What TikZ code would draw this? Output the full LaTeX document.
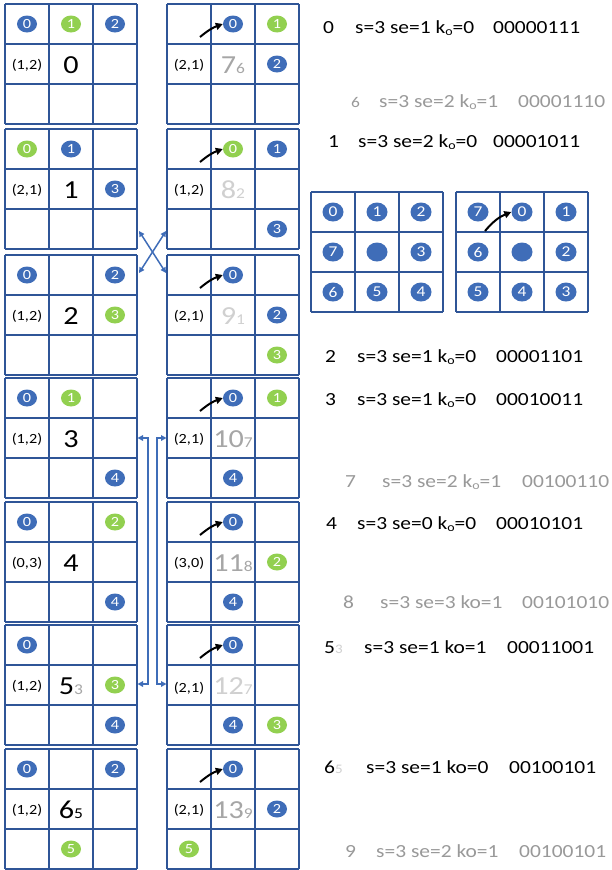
\documentclass[tikz,border=0pt]{standalone}
\usepackage{fontspec}
\setmainfont{Carlito}[FakeStretch=1.16]
\usetikzlibrary{shapes.geometric,arrows.meta}

\definecolor{gridblue}{HTML}{2F5597}
\definecolor{dotblue}{HTML}{3F6DB8}
\definecolor{dotgreen}{HTML}{92D050}
\definecolor{txtgray}{HTML}{999999}
\definecolor{midgray}{HTML}{A6A6A6}
\definecolor{palegray}{HTML}{D0D0D0}

\newcommand\fs[1]{\fontsize{#1}{#1}\selectfont}
\newcommand\ko{k\raisebox{-2.5pt}{\fs{12}o}}

\tikzset{
  gridline/.style={draw=gridblue, line width=1.2pt},
  bdot/.style={ellipse, fill=dotblue, text=white, inner sep=0pt,
    minimum width=20pt, minimum height=17pt, font=\fs{14}},
  gdot/.style={bdot, fill=dotgreen},
  mdot/.style={bdot, minimum width=21pt, minimum height=19pt, font=\fs{15}},
  pair/.style={anchor=base, inner sep=0pt, font=\fs{14}},
  bignum/.style={anchor=base, inner sep=0pt, font=\fs{26}},
  turn/.style={-{Triangle[length=7pt,width=7pt]}, line width=2pt, draw=black},
  link/.style={{Triangle[length=5.5pt,width=5.5pt]}-{Triangle[length=5.5pt,width=5.5pt]},
    draw=dotblue, line width=1.5pt},
  row/.style={anchor=base west, inner sep=0pt, font=\fs{18.5}},
  graytxt/.style={row, text=txtgray},
}

% 3x3 board of 44x40 cells with its top-left corner at (#2,#3);
% cell centres are named #1-row-col
\newcommand\gridat[3]{%
  \foreach \k in {0,1,2,3}{
    \draw[gridline] (#2+44*\k,#3) -- (#2+44*\k,#3+120);
    \draw[gridline] (#2,#3+40*\k) -- (#2+132,#3+40*\k);}
  \foreach \i in {0,1,2}{\foreach \j in {0,1,2}{
    \coordinate (#1-\i-\j) at (#2+22+44*\j,#3+20+40*\i);}}}

% curved arrow pointing at the circle in the upper middle cell
\newcommand\turnarrow[2]{%
  \coordinate (#1t) at ([xshift=-33pt,yshift=-13pt]#1-0-1);
  \draw[turn] (#1t) to[bend left=10] (#2.west);}

\begin{document}
\begin{tikzpicture}[x=1pt,y=-1pt]
\useasboundingbox (0,0) rectangle (611,870);
\fill[white] (0,0) rectangle (611,870);

% ---------- boards ----------
\gridat{L0}{5}{4}     \gridat{R0}{167}{4}
\gridat{L1}{5}{129}   \gridat{R1}{167}{129}
\gridat{L2}{5}{255}   \gridat{R2}{167}{255}
\gridat{L3}{5}{378}   \gridat{R3}{167}{378}
\gridat{L4}{5}{502}   \gridat{R4}{167}{502}
\gridat{L5}{5}{625}   \gridat{R5}{167}{625}
\gridat{L6}{5}{749}   \gridat{R6}{167}{749}

% board 0
\node[bdot] (L0a) at (L0-0-0) {0};
\node[gdot] (L0b) at (L0-0-1) {1};
\node[bdot] (L0c) at (L0-0-2) {2};
\node[pair] (L0p) at ([yshift=-5pt]L0-1-0) {(1,2)};
\node[bignum] (L0n) at ([yshift=-9pt]L0-1-1) {0};
\node[bdot] (R0a) at (R0-0-1) {0};
\node[gdot] (R0b) at (R0-0-2) {1};
\node[bdot] (R0c) at (R0-1-2) {2};
\node[pair] (R0p) at ([yshift=-5pt]R0-1-0) {(2,1)};
\node[bignum, text=midgray] (R0n) at ([yshift=-9pt]R0-1-1) {7{\fs{15}6}};
\turnarrow{R0}{R0a}

% board 1
\node[gdot] (L1a) at (L1-0-0) {0};
\node[bdot] (L1b) at (L1-0-1) {1};
\node[bdot] (L1c) at (L1-1-2) {3};
\node[pair] (L1p) at ([yshift=-5pt]L1-1-0) {(2,1)};
\node[bignum] (L1n) at ([yshift=-9pt]L1-1-1) {1};
\node[gdot] (R1a) at (R1-0-1) {0};
\node[bdot] (R1b) at (R1-0-2) {1};
\node[bdot] (R1c) at (R1-2-2) {3};
\node[pair] (R1p) at ([yshift=-5pt]R1-1-0) {(1,2)};
\node[bignum, text=palegray] (R1n) at ([yshift=-9pt]R1-1-1) {8{\fs{15}2}};
\turnarrow{R1}{R1a}

% board 2
\node[bdot] (L2a) at (L2-0-0) {0};
\node[bdot] (L2b) at (L2-0-2) {2};
\node[gdot] (L2c) at (L2-1-2) {3};
\node[pair] (L2p) at ([yshift=-5pt]L2-1-0) {(1,2)};
\node[bignum] (L2n) at ([yshift=-9pt]L2-1-1) {2};
\node[bdot] (R2a) at (R2-0-1) {0};
\node[bdot] (R2b) at (R2-1-2) {2};
\node[gdot] (R2c) at (R2-2-2) {3};
\node[pair] (R2p) at ([yshift=-5pt]R2-1-0) {(2,1)};
\node[bignum, text=palegray] (R2n) at ([yshift=-9pt]R2-1-1) {9{\fs{15}1}};
\turnarrow{R2}{R2a}

% board 3
\node[bdot] (L3a) at (L3-0-0) {0};
\node[gdot] (L3b) at (L3-0-1) {1};
\node[bdot] (L3c) at (L3-2-2) {4};
\node[pair] (L3p) at ([yshift=-5pt]L3-1-0) {(1,2)};
\node[bignum] (L3n) at ([yshift=-9pt]L3-1-1) {3};
\node[bdot] (R3a) at (R3-0-1) {0};
\node[gdot] (R3b) at (R3-0-2) {1};
\node[bdot] (R3c) at (R3-2-1) {4};
\node[pair] (R3p) at ([yshift=-5pt]R3-1-0) {(2,1)};
\node[bignum, text=midgray] (R3n) at ([yshift=-9pt]R3-1-1) {10{\fs{15}7}};
\turnarrow{R3}{R3a}

% board 4
\node[bdot] (L4a) at (L4-0-0) {0};
\node[gdot] (L4b) at (L4-0-2) {2};
\node[bdot] (L4c) at (L4-2-2) {4};
\node[pair] (L4p) at ([yshift=-5pt]L4-1-0) {(0,3)};
\node[bignum] (L4n) at ([yshift=-9pt]L4-1-1) {4};
\node[bdot] (R4a) at (R4-0-1) {0};
\node[gdot] (R4b) at (R4-1-2) {2};
\node[bdot] (R4c) at (R4-2-1) {4};
\node[pair] (R4p) at ([yshift=-5pt]R4-1-0) {(3,0)};
\node[bignum, text=midgray] (R4n) at ([yshift=-9pt]R4-1-1) {11{\fs{15}8}};
\turnarrow{R4}{R4a}

% board 5
\node[bdot] (L5a) at (L5-0-0) {0};
\node[gdot] (L5b) at (L5-1-2) {3};
\node[bdot] (L5c) at (L5-2-2) {4};
\node[pair] (L5p) at ([yshift=-5pt]L5-1-0) {(1,2)};
\node[bignum] (L5n) at ([yshift=-9pt]L5-1-1) {5{\fs{15}\color{midgray}3}};
\node[bdot] (R5a) at (R5-0-1) {0};
\node[bdot] (R5b) at (R5-2-1) {4};
\node[gdot] (R5c) at (R5-2-2) {3};
\node[pair] (R5p) at ([yshift=-7pt]R5-1-0) {(2,1)};
\node[bignum, text=palegray] (R5n) at ([yshift=-9pt]R5-1-1) {12{\fs{15}7}};
\turnarrow{R5}{R5a}

% board 6
\node[bdot] (L6a) at (L6-0-0) {0};
\node[bdot] (L6b) at (L6-0-2) {2};
\node[gdot] (L6c) at (L6-2-1) {5};
\node[pair] (L6p) at ([yshift=-5pt]L6-1-0) {(1,2)};
\node[bignum] (L6n) at ([yshift=-9pt]L6-1-1) {6{\fs{15}5}};
\node[bdot] (R6a) at (R6-0-1) {0};
\node[bdot] (R6b) at (R6-1-2) {2};
\node[gdot] (R6c) at (R6-2-0) {5};
\node[pair] (R6p) at ([yshift=-5pt]R6-1-0) {(2,1)};
\node[bignum, text=midgray] (R6n) at ([yshift=-9pt]R6-1-1) {13{\fs{15}9}};
\turnarrow{R6}{R6a}

% ---------- crossing links between boards 1 and 2 ----------
\coordinate (xa) at (139,231);
\coordinate (xb) at (166,273);
\coordinate (xc) at (166,231);
\coordinate (xd) at (139,273);
\draw[link] (xa) -- (xb);
\draw[link] (xc) -- (xd);

% ---------- links between boards 3 and 5 ----------
\coordinate (va) at (137.5,438);
\coordinate (vb) at (148,438);
\coordinate (vc) at (148,684);
\coordinate (vd) at (137.5,684);
\draw[link] (va) -- (vb) -- (vc) -- (vd);
\coordinate (wa) at (166.5,438);
\coordinate (wb) at (157,438);
\coordinate (wc) at (157,684);
\coordinate (wd) at (166.5,684);
\draw[link] (wa) -- (wb) -- (wc) -- (wd);

% ---------- neighbour numbering ----------
\gridat{MA}{311}{192}
\gridat{MB}{456}{192}
\node[mdot] (MA0) at (MA-0-0) {0};
\node[mdot] (MA1) at (MA-0-1) {1};
\node[mdot] (MA2) at (MA-0-2) {2};
\node[mdot] (MA7) at (MA-1-0) {7};
\node[mdot] (MAc) at (MA-1-1) {};
\node[mdot] (MA3) at (MA-1-2) {3};
\node[mdot] (MA6) at (MA-2-0) {6};
\node[mdot] (MA5) at (MA-2-1) {5};
\node[mdot] (MA4) at (MA-2-2) {4};
\node[mdot] (MB7) at (MB-0-0) {7};
\node[mdot] (MB0) at (MB-0-1) {0};
\node[mdot] (MB1) at (MB-0-2) {1};
\node[mdot] (MB6) at (MB-1-0) {6};
\node[mdot] (MBc) at (MB-1-1) {};
\node[mdot] (MB2) at (MB-1-2) {2};
\node[mdot] (MB5) at (MB-2-0) {5};
\node[mdot] (MB4) at (MB-2-1) {4};
\node[mdot] (MB3) at (MB-2-2) {3};
\coordinate (MBt) at (485,231);
\draw[turn] (MBt) to[bend left=14] (MB0.west);

% ---------- code table ----------
\node[row] (t0a) at (323,33) {0};
\node[row] (t0b) at (355,33) {s=3 se=1 \ko=0};
\node[row] (t0c) at (493,33) {00000111};

\node[graytxt, font=\fs{15}] (t6a) at (351,107) {6};
\node[graytxt] (t6b) at (379,107) {s=3 se=2 \ko=1};
\node[graytxt] (t6c) at (518,107) {00001110};

\node[row] (t1a) at (328,147) {1};
\node[row] (t1b) at (358,147) {s=3 se=2 \ko=0};
\node[row] (t1c) at (493,147) {00001011};

\node[row] (t2a) at (325,362) {2};
\node[row] (t2b) at (357,362) {s=3 se=1 \ko=0};
\node[row] (t2c) at (496,362) {00001101};

\node[row] (t3a) at (325,405) {3};
\node[row] (t3b) at (357,405) {s=3 se=1 \ko=0};
\node[row] (t3c) at (496,405) {00010011};

\node[graytxt] (t7a) at (345,487) {7};
\node[graytxt] (t7b) at (382,487) {s=3 se=2 \ko=1};
\node[graytxt] (t7c) at (522,487) {00100110};

\node[row] (t4a) at (326,529) {4};
\node[row] (t4b) at (357,529) {s=3 se=0 \ko=0};
\node[row] (t4c) at (496,529) {00010101};

\node[graytxt] (t8a) at (343,608) {8};
\node[graytxt] (t8b) at (380,608) {s=3 se=3 ko=1};
\node[graytxt] (t8c) at (522,608) {00101010};

\node[row] (t5a) at (324,653) {5{\fs{13}\color{palegray}3}};
\node[row] (t5b) at (364,653) {s=3 se=1 ko=1};
\node[row] (t5c) at (507,653) {00011001};

\node[row] (t65a) at (324,773) {6{\fs{13}\color{palegray}5}};
\node[row] (t65b) at (366,773) {s=3 se=1 ko=0};
\node[row] (t65c) at (509,773) {00100101};

\node[graytxt] (t9a) at (345,857) {9};
\node[graytxt] (t9b) at (376,857) {s=3 se=2 ko=1};
\node[graytxt] (t9c) at (519,857) {00100101};
\end{tikzpicture}
\end{document}
